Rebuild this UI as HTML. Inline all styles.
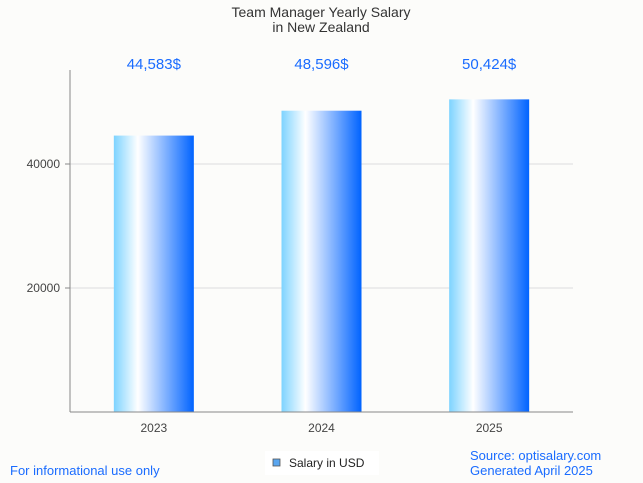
<!DOCTYPE html>
<html><head><meta charset="utf-8"><style>
body{margin:0;background:#fcfcfa;font-family:"Liberation Sans",sans-serif;}
svg{display:block}
</style></head><body>
<svg width="643" height="483">
<defs><linearGradient id="g" x1="0" x2="1" y1="0" y2="0">
<stop offset="0" stop-color="#7dd3ff"/><stop offset="0.3" stop-color="#ffffff"/><stop offset="1" stop-color="#0063ff"/></linearGradient></defs>
<rect width="643" height="483" fill="#fcfcfa"/>
<text x="321" y="17" text-anchor="middle" font-size="14" fill="#333">Team Manager Yearly Salary</text>
<text x="321" y="32" text-anchor="middle" font-size="14" fill="#333">in New Zealand</text>
<g id="plot"></g>
<text x="10" y="475" font-size="13" fill="#1a6cff">For informational use only</text>
<rect x="265" y="451" width="114" height="24" fill="#fff"/>
<rect x="273" y="459" width="7" height="7" fill="#5aa6f0" stroke="#555" stroke-width="0.8"/>
<text x="289" y="467" font-size="12" fill="#222">Salary in USD</text>
<text x="470" y="460" font-size="13" fill="#1a6cff">Source: optisalary.com</text>
<text x="470" y="475" font-size="13" fill="#1a6cff">Generated April 2025</text>
</svg>
<script>
const categories=["2023","2024","2025"];
const salaries=[44583,48596,50424];
const labels=["44,583$","48,596$","50,424$"];
const yTicks=[20000,40000];
const NS="http://www.w3.org/2000/svg";
const g=document.getElementById("plot");
const x0=70,x1=573,yBase=412,yTop=70;
const y=v=>yBase-v*124/20000;
const band=(x1-x0)/categories.length;
const xc=i=>x0+band*(i+0.5);
function mk(t,a){const e=document.createElementNS(NS,t);for(const k in a)e.setAttribute(k,a[k]);g.appendChild(e);return e;}
yTicks.forEach(t=>{
 const l=mk("line",{x1:x0-5,x2:x1,y1:y(t),y2:y(t),stroke:"#ddd"});
 
 
 const tk=mk("line",{x1:x0-5,x2:x0,y1:y(t),y2:y(t),stroke:"#888"});
 
 
 const tx=mk("text",{x:x0-10,y:y(t)+4,"text-anchor":"end","font-size":"12",fill:"#444"});
 tx.textContent=t;
 
 
});
categories.forEach((c,i)=>{
 const b=mk("rect",{x:xc(i)-40,y:y(salaries[i]),width:80,height:yBase-y(salaries[i]),fill:"url(#g)"});
 
 
 const v=mk("text",{x:xc(i),y:69,"text-anchor":"middle","font-size":"15",fill:"#1a6cff"});
 v.textContent=labels[i];
 
 
 const xl=mk("text",{x:xc(i),y:432,"text-anchor":"middle","font-size":"12",fill:"#444"});
 xl.textContent=c;
 
 
});
const ax=mk("line",{x1:x0,x2:x0,y1:yTop,y2:yBase,stroke:"#888"});


const bx=mk("line",{x1:x0,x2:x1,y1:yBase,y2:yBase,stroke:"#888"});


</script>
</body></html>
